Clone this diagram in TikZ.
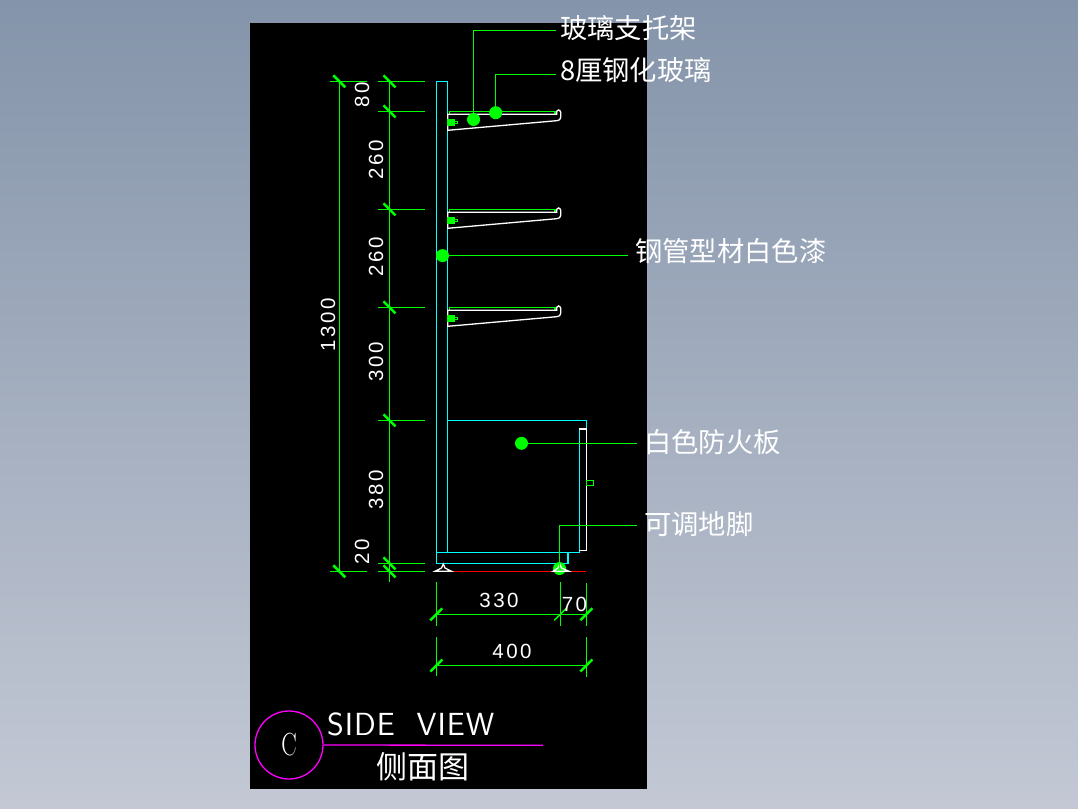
\documentclass[tikz,border=0pt]{standalone}
\usepackage{fontspec}
\newfontfamily\cjkfont{Noto Sans CJK SC}
\newfontfamily\dimfont[LetterSpace=12]{Liberation Sans}
\newfontfamily\viewfont[LetterSpace=3]{Latin Modern Sans}
\definecolor{cadgreen}{HTML}{00FF00}
\definecolor{cadcyan}{HTML}{00FFFF}
\definecolor{cadmagenta}{HTML}{FF00FF}
\definecolor{cadred}{HTML}{FF0000}
\definecolor{skytop}{HTML}{8494AA}
\definecolor{skybottom}{HTML}{C3C8D4}
\tikzset{
  cadline/.style={line width=1.3pt},
  greenline/.style={cadline, draw=cadgreen},
  cyanline/.style={cadline, draw=cadcyan},
  whiteline/.style={cadline, draw=white},
  dimtick/.style={draw=cadgreen, line width=2.5pt},
  leaderdot/.style={circle, fill=cadgreen, inner sep=0pt, minimum size=13pt},
  leaderlabel/.style={anchor=west, text=white, inner ysep=0pt, inner xsep=4pt,
    text height=20pt, text depth=#1, font=\cjkfont\fontsize{27.3}{27}\selectfont},
  dimlabel/.style={text=white, inner sep=0pt, font=\dimfont\fontsize{20.5}{21}\selectfont},
  dimlabelv/.style={dimlabel, rotate=90}
}
\begin{document}
\begin{tikzpicture}[x=1pt, y=-1pt]
  \shade[top color=skytop, bottom color=skybottom] (0,0) rectangle (1078,808);
  \useasboundingbox (0,0) rectangle (1078,808);
  \fill[black] (250,23) rectangle (647,789);

  \draw[cyanline] (436.3,81.3) -- (447.7,81.3) -- (447.7,552.3);
  \draw[cyanline] (436.3,81.3) -- (436.3,563.3) -- (568,563.3) -- (568,552.3);
  \draw[cyanline] (436.3,552.3) -- (579.3,552.3) -- (579.3,429) -- (586.3,429) -- (586.3,420.3) -- (447.7,420.3);
  \draw[whiteline] (579.3,429) -- (586.3,429) -- (586.3,550.7) -- (579.3,550.7);
  \draw[greenline] (586.3,480.3) rectangle (593.6,485.7);

  \draw[cadline, draw=cadred] (451,571.3) -- (586,571.3);
  \draw[whiteline] (443.3,564) -- (445,568) -- (451.5,571.3) -- (435,571.3) -- (441.5,568) -- cycle;

  \foreach \yy in {111.3,209.3,307.3} {
    \begin{scope}[shift={(0,\yy)}]
      \draw[greenline] (449.5,3) -- (449.5,0) -- (555,0) -- (555,3);
      \draw[whiteline] (447.7,3) -- (556.7,3) -- (556.7,0) .. controls (557,-2) and (560,-2) .. (560.7,1)
        -- (560.7,6) .. controls (560.7,8) and (559,9.4) .. (556.7,9.4) -- (447.7,19) -- cycle;
      \draw[greenline, fill=cadgreen] (447.7,8) rectangle (454,14.5);
      \draw[greenline] (454,10.5) rectangle (457.7,12.5);
    \end{scope}
  }

  \draw[greenline] (339.3,81.3) -- (339.3,571.3);
  \draw[greenline] (389.5,81.3) -- (389.5,581.7);
  \foreach \yy in {81.3,571.3} {
    \draw[greenline] (330,\yy) -- (366.7,\yy);
    \draw[dimtick] (333.3,\yy-6) -- (345.3,\yy+6);
  }
  \foreach \yy in {81.3,111.3,209.3,307.3,420.3,563.3,571.3} {
    \draw[greenline] (378,\yy) -- (425,\yy);
    \draw[dimtick] (383.5,\yy-6) -- (395.5,\yy+6);
  }

  \draw[greenline] (436.3,614.3) -- (586.3,614.3);
  \draw[greenline] (436.3,665.5) -- (586.3,665.5);
  \draw[greenline] (436.3,582) -- (436.3,626);
  \draw[greenline] (560.3,582) -- (560.3,626);
  \draw[greenline] (586.3,583) -- (586.3,626);
  \draw[greenline] (436.3,637) -- (436.3,676);
  \draw[greenline] (586.3,637) -- (586.3,677);
  \foreach \xx in {436.3,586.3} {
    \draw[dimtick] (\xx-6,614.3+6) -- (\xx+6,614.3-6);
    \draw[dimtick] (\xx-6,665.5+6) -- (\xx+6,665.5-6);
  }
  \draw[greenline] (554.3,620.3) -- (566.3,608.3);

  \node[dimlabelv] (dimeighty) at (362,95) {80};
  \node[dimlabelv] (dimuppershelf) at (376,160) {260};
  \node[dimlabelv] (dimlowershelf) at (376,257) {260};
  \node[dimlabelv] (dimgap) at (376,362) {300};
  \node[dimlabelv] (dimcabinet) at (376,490) {380};
  \node[dimlabelv] (dimfoot) at (362,552) {20};
  \node[dimlabelv] (dimheight) at (328,325) {1300};
  \node[dimlabel] (dimdepth) at (499,600) {330};
  \node[dimlabel] (dimdoor) at (574.5,604) {70};
  \node[dimlabel] (dimwidth) at (512,651) {400};

  \node[leaderdot] (dotbracket) at (473.5,119.5) {};
  \node[leaderdot] (dotglass) at (495.7,112.7) {};
  \node[leaderdot] (dotpipe) at (442.5,255.6) {};
  \node[leaderdot] (dotboard) at (521.5,443.3) {};
  \node[leaderdot] (dotfoot) at (559.5,568.5) {};
  \draw[whiteline] (559.8,564) -- (561.5,568) -- (569,571.3) -- (553,571.3) -- (558,568) -- cycle;

  \node[leaderlabel=4.6pt] (lblbracket) at (556,30.3) {玻璃支托架};
  \node[leaderlabel=6.6pt] (lblglass) at (556,74.3) {8厘钢化玻璃};
  \node[leaderlabel=8pt, inner xsep=7pt] (lblpipe) at (628,255.6) {钢管型材白色漆};
  \node[leaderlabel=2.6pt, inner xsep=7pt] (lblboard) at (637,443.3) {白色防火板};
  \node[leaderlabel=2.6pt, inner xsep=7pt] (lblfoot) at (637,525.3) {可调地脚};
  \draw[greenline] (dotbracket.center) |- (lblbracket.west);
  \draw[greenline] (dotglass.center) |- (lblglass.west);
  \draw[greenline] (dotpipe.center) -- (lblpipe.west);
  \draw[greenline] (dotboard.center) -- (lblboard.west);
  \draw[greenline] (dotfoot.center) |- (lblfoot.west);

  \node[circle, draw=cadmagenta, line width=1.3pt, minimum size=68pt, inner sep=0pt,
    text=white, font=\fontsize{32}{32}\selectfont] (viewmark) at (289,745) {\scalebox{0.72}[1]{C}};
  \coordinate (viewend) at (543,745.3);
  \draw[cadline, draw=cadmagenta] (viewmark.east) -- (viewend);
  \node[text=white, inner sep=0pt, anchor=west, font=\viewfont\fontsize{32}{32}\selectfont] (viewname) at (327,724) {SIDE\ \ VIEW};
  \node[text=white, inner sep=0pt, font=\cjkfont\fontsize{31}{31}\selectfont] (viewcjk) at (423,767) {侧面图};
\end{tikzpicture}
\end{document}
